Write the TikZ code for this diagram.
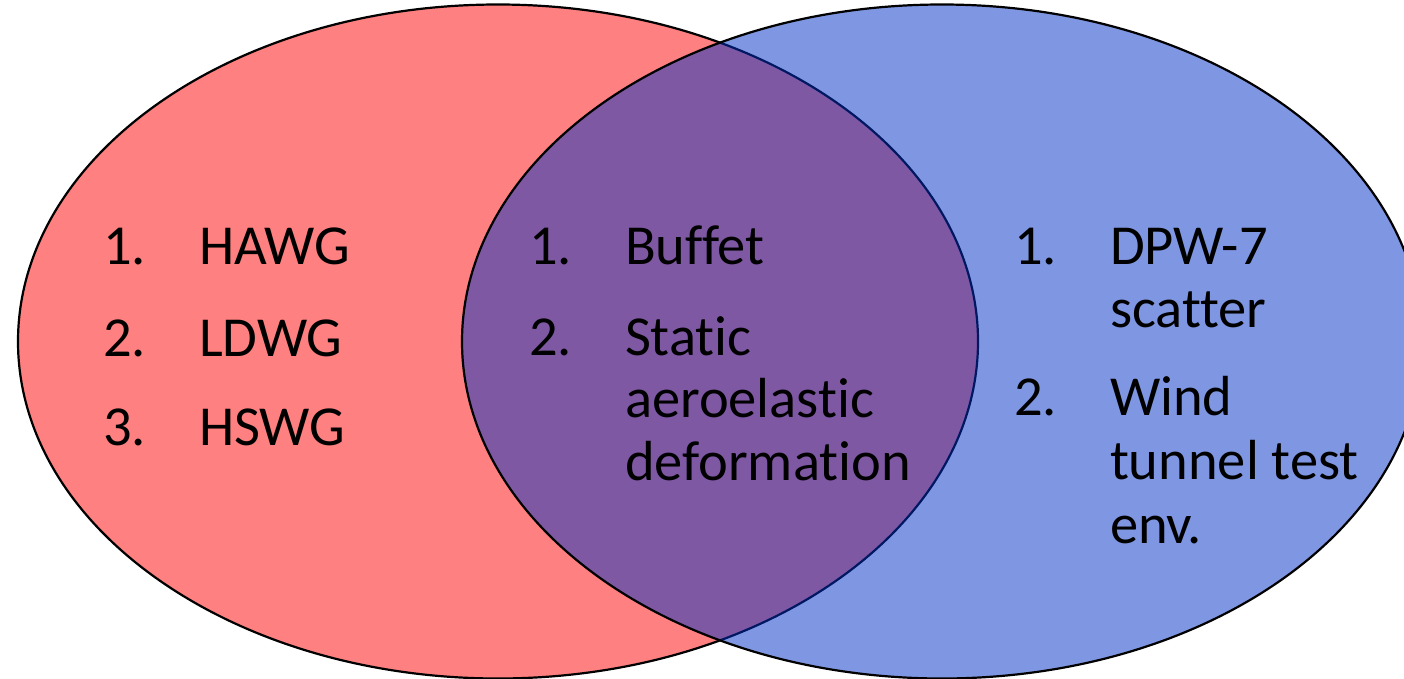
\documentclass[tikz,border=0pt]{standalone}
\usepackage{fontspec}
\setmainfont{Carlito}[Ligatures={NoCommon}]
\definecolor{pinkfill}{RGB}{255,128,128}
\definecolor{bluefill}{RGB}{0,49,199}
\tikzset{
  lbl/.style={anchor=base west, inner sep=0pt, outer sep=0pt, font=\fontsize{56.5}{62}\selectfont, text=black},
  venn/.style={draw=black, line width=2.2pt}
}
\begin{document}
\begin{tikzpicture}[x=1pt,y=-1pt]
\useasboundingbox (0,0) rectangle (1404,678);
\clip (0,0) rectangle (1404,678);
\fill[white] (0,0) rectangle (1404,678);
\path[venn, fill=pinkfill] (498,341.5) ellipse [x radius=480pt, y radius=337pt];
\path[venn, fill=bluefill, fill opacity=0.5] (942,341.5) ellipse [x radius=480pt, y radius=337pt];
% left set
\node[lbl] (l1n) at (103,264) {1.};
\node[lbl] (l1) at (199,264) {HAWG};
\node[lbl] (l2n) at (103,356) {2.};
\node[lbl] (l2) at (199,356) {LDWG};
\node[lbl] (l3n) at (103,445) {3.};
\node[lbl] (l3) at (199,445) {HSWG};
% middle
\node[lbl] (m1n) at (529,264) {1.};
\node[lbl] (m1) at (625,264) {Buffet};
\node[lbl] (m2n) at (529,355) {2.};
\node[lbl] (m2a) at (625,355) {Static};
\node[lbl] (m2b) at (625,417) {aeroelastic};
\node[lbl] (m2c) at (625,480) {deformation};
% right
\node[lbl] (r1n) at (1014,264) {1.};
\node[lbl] (r1a) at (1110,264) {DPW-7};
\node[lbl] (r1b) at (1110,327) {scatter};
\node[lbl] (r2n) at (1014,415) {2.};
\node[lbl] (r2a) at (1110,415) {Wind};
\node[lbl] (r2b) at (1110,479) {tunnel test};
\node[lbl] (r2c) at (1110,543) {env.};
\end{tikzpicture}
\end{document}
